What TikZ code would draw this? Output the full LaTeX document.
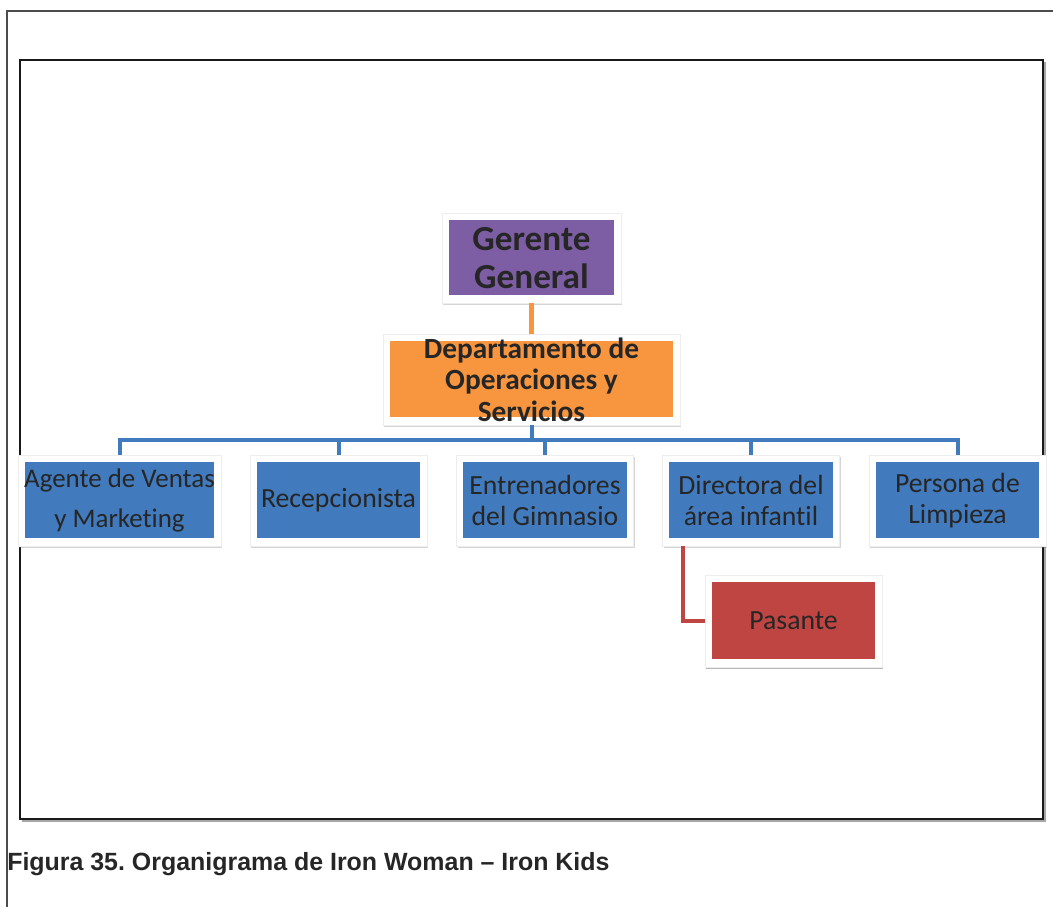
\documentclass[tikz,border=0pt]{standalone}
\usepackage{fontspec}
\setmainfont{Carlito}[Ligatures=NoCommon]
\newfontfamily\capfont{Liberation Sans}
\usetikzlibrary{shadows}
\definecolor{ggpurple}{HTML}{7D5DA3}
\definecolor{deporange}{HTML}{F7963F}
\definecolor{chblue}{HTML}{417ABD}
\definecolor{pasred}{HTML}{BE4541}
\definecolor{txt}{HTML}{262626}
\tikzset{
  orgbox/.style={rectangle, fill=white, draw=black!7, line width=0.4pt, inner sep=0pt,
    align=center, text=txt,
    drop shadow={shadow xshift=0.8pt, shadow yshift=-1.4pt, opacity=0.3, fill=black!55},
    path picture={\fill[#1] ([shift={(5.2pt,-5pt)}]path picture bounding box.north west)
      rectangle ([shift={(-5.2pt,5.8pt)}]path picture bounding box.south east);}},
  childbox/.style={orgbox=chblue, minimum width=132.75pt, minimum height=68.25pt,
    font=\fontsize{20.8}{23}\selectfont},
  busline/.style={draw=chblue, line width=3pt},
  topline/.style={draw=deporange, line width=4pt},
  subline/.style={draw=pasred, line width=3pt},
}
\begin{document}
\begin{tikzpicture}[x=0.75pt,y=-0.75pt]
\useasboundingbox (0,0) rectangle (1053,907);
% page frames
\draw[black!70, line width=1.1pt] (7,907) -- (7,11) -- (1053,11);
\draw[black!35, line width=1.2pt] (22,821) -- (1045,821) -- (1045,62);
\draw[black!90, line width=1.1pt] (20,60) rectangle (1043,819);
% nodes
\node[orgbox=ggpurple, minimum width=134.25pt, minimum height=67.5pt,
  font=\bfseries\fontsize{26.4}{28.5}\selectfont] (gg) at (531.5,258) {Gerente\\General};
\node[orgbox=deporange, minimum width=222.75pt, minimum height=68.25pt,
  font=\bfseries\fontsize{22}{23.6}\selectfont] (dep) at (531.5,379.5)
  {Departamento de\\Operaciones y\\Servicios};
\node[childbox, font=\fontsize{20.2}{30}\selectfont, minimum width=152.25pt] (agent) at (119.5,500.5) {Agente de Ventas\\y Marketing};
\node[childbox] (recep) at (338.5,500.5) {Recepcionista};
\node[childbox] (entr) at (545,500.5) {Entrenadores\\del Gimnasio};
\node[childbox] (dir) at (751,500.5) {Directora del\\área infantil};
\node[childbox] (pers) at (957.5,500.5) {Persona de\\Limpieza};
\node[childbox, orgbox=pasred, minimum height=69pt] (pas) at (793.5,621) {Pasante};
% connectors
\draw[topline] (gg.south) -- (dep.north);
\draw[busline] (dep.south) -- ++(0,15) -| (agent.north);
\draw[busline] (dep.south) -- ++(0,15) -| (recep.north);
\draw[busline] (dep.south) -- ++(0,15) -| (entr.north);
\draw[busline] (dep.south) -- ++(0,15) -| (dir.north);
\draw[busline] (dep.south) -- ++(0,15) -| (pers.north);
\draw[subline] ([xshift=15.75pt]dir.south west) |- (pas.west);
% caption
\node[anchor=base west, inner sep=0pt, font=\capfont\bfseries\frenchspacing\fontsize{18.7}{20}\selectfont, text=black!85]
  (cap) at (7,870) {Figura 35. Organigrama de Iron Woman – Iron Kids};
\end{tikzpicture}
\end{document}
